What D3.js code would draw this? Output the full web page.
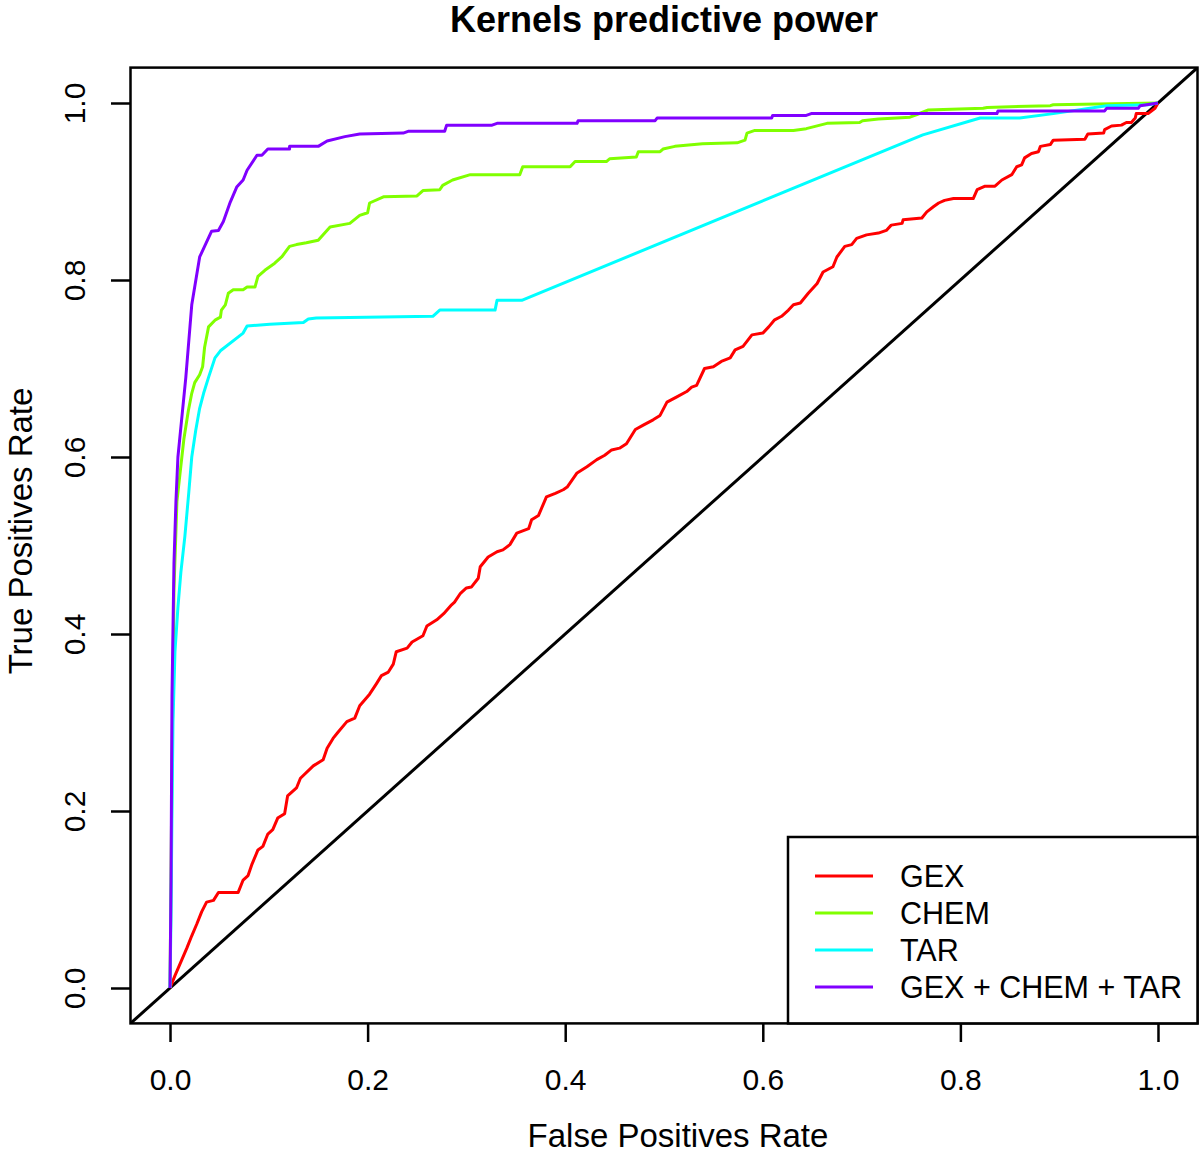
<!DOCTYPE html>
<html>
<head>
<meta charset="utf-8">
<script src="https://cdn.jsdelivr.net/npm/d3@7"></script>
<style>
  html, body { margin: 0; padding: 0; background: #fff; }
  svg { display: block; }
  text { font-family: "Liberation Sans", Arial, Helvetica, sans-serif; fill: #000; }
</style>
</head>
<body>
<svg id="chart" width="1200" height="1155"></svg>
<script>
// ---------------- data ----------------
const chartTitle = "Kernels predictive power";
const xLabel = "False Positives Rate";
const yLabel = "True Positives Rate";
const tickValues = [0, 0.2, 0.4, 0.6, 0.8, 1.0];
const tickLabels = ["0.0", "0.2", "0.4", "0.6", "0.8", "1.0"];
const seriesNames = ["GEX", "CHEM", "TAR", "GEX + CHEM + TAR"];
const seriesColors = ["#FF0000", "#80FF00", "#00FFFF", "#8000FF"];

// ROC points [FPR, TPR]
const gexRoc = [[0,0],[0.005,0.014],[0.012,0.032],[0.017,0.045],[0.022,0.059],[0.027,0.072],[0.032,0.086],[0.037,0.097],[0.044,0.099],[0.049,0.108],[0.069,0.108],[0.074,0.122],[0.079,0.127],[0.083,0.140],[0.089,0.156],[0.094,0.160],[0.099,0.174],[0.104,0.179],[0.109,0.192],[0.116,0.197],[0.119,0.217],[0.128,0.226],[0.132,0.237],[0.145,0.251],[0.155,0.258],[0.159,0.271],[0.165,0.282],[0.170,0.289],[0.179,0.301],[0.187,0.305],[0.192,0.319],[0.202,0.332],[0.209,0.344],[0.214,0.353],[0.221,0.357],[0.226,0.366],[0.229,0.380],[0.240,0.384],[0.245,0.391],[0.256,0.398],[0.260,0.409],[0.270,0.416],[0.277,0.423],[0.285,0.433],[0.288,0.436],[0.294,0.446],[0.300,0.452],[0.305,0.453],[0.312,0.463],[0.314,0.476],[0.322,0.487],[0.331,0.493],[0.337,0.495],[0.344,0.501],[0.351,0.514],[0.363,0.519],[0.366,0.529],[0.373,0.534],[0.381,0.555],[0.390,0.559],[0.398,0.563],[0.402,0.566],[0.412,0.582],[0.422,0.589],[0.432,0.597],[0.440,0.602],[0.447,0.608],[0.455,0.610],[0.462,0.615],[0.471,0.631],[0.479,0.636],[0.489,0.642],[0.496,0.647],[0.503,0.662],[0.513,0.668],[0.523,0.674],[0.528,0.679],[0.533,0.681],[0.541,0.700],[0.550,0.702],[0.558,0.708],[0.567,0.712],[0.572,0.721],[0.580,0.725],[0.589,0.738],[0.600,0.740],[0.606,0.747],[0.612,0.755],[0.619,0.759],[0.626,0.766],[0.631,0.772],[0.638,0.774],[0.646,0.785],[0.655,0.796],[0.661,0.809],[0.671,0.815],[0.675,0.826],[0.683,0.838],[0.690,0.840],[0.695,0.847],[0.705,0.851],[0.717,0.853],[0.725,0.856],[0.730,0.862],[0.741,0.864],[0.742,0.868],[0.761,0.870],[0.766,0.877],[0.773,0.883],[0.778,0.887],[0.784,0.890],[0.793,0.892],[0.813,0.892],[0.817,0.902],[0.825,0.906],[0.835,0.906],[0.842,0.913],[0.852,0.919],[0.857,0.928],[0.862,0.930],[0.865,0.938],[0.872,0.943],[0.879,0.945],[0.881,0.951],[0.891,0.953],[0.894,0.958],[0.926,0.959],[0.929,0.965],[0.945,0.966],[0.946,0.970],[0.953,0.974],[0.963,0.975],[0.968,0.978],[0.973,0.978],[0.977,0.983],[0.978,0.988],[0.990,0.988],[0.997,0.994],[1,1]];

const chemRoc = [[0,0],[0.002,0.25],[0.004,0.45],[0.007,0.55],[0.010,0.58],[0.014,0.62],[0.0185,0.652],[0.022,0.672],[0.025,0.684],[0.030,0.693],[0.033,0.702],[0.035,0.724],[0.039,0.747],[0.046,0.755],[0.051,0.758],[0.052,0.766],[0.056,0.772],[0.059,0.785],[0.064,0.789],[0.074,0.789],[0.078,0.792],[0.086,0.792],[0.089,0.804],[0.096,0.811],[0.106,0.819],[0.113,0.826],[0.121,0.838],[0.128,0.840],[0.138,0.842],[0.150,0.845],[0.162,0.860],[0.182,0.864],[0.192,0.873],[0.200,0.876],[0.202,0.887],[0.216,0.894],[0.250,0.895],[0.256,0.901],[0.273,0.902],[0.276,0.907],[0.286,0.913],[0.304,0.919],[0.354,0.919],[0.357,0.928],[0.405,0.928],[0.410,0.934],[0.442,0.934],[0.445,0.937],[0.472,0.939],[0.474,0.945],[0.496,0.945],[0.499,0.948],[0.511,0.951],[0.539,0.954],[0.574,0.955],[0.582,0.958],[0.584,0.966],[0.592,0.969],[0.631,0.969],[0.644,0.971],[0.665,0.977],[0.698,0.978],[0.701,0.980],[0.717,0.982],[0.749,0.984],[0.756,0.987],[0.767,0.992],[0.823,0.994],[0.827,0.995],[0.891,0.997],[0.894,0.998],[1,1]];

const tarRoc = [[0,0],[0.001,0.08],[0.002,0.2],[0.003,0.3],[0.005,0.38],[0.008,0.43],[0.011,0.47],[0.015,0.51],[0.019,0.56],[0.022,0.6],[0.026,0.63],[0.030,0.655],[0.034,0.672],[0.039,0.69],[0.0455,0.712],[0.051,0.72],[0.074,0.740],[0.078,0.748],[0.101,0.750],[0.135,0.752],[0.140,0.756],[0.148,0.757],[0.266,0.759],[0.273,0.766],[0.329,0.766],[0.331,0.777],[0.356,0.777],[0.749,0.958],[0.762,0.964],[0.820,0.983],[0.860,0.983],[0.894,0.988],[0.948,0.997],[0.990,0.998],[1,1]];

const comboRoc = [[0,0],[0.001,0.12],[0.002,0.33],[0.004,0.48],[0.006,0.55],[0.008,0.6],[0.012,0.645],[0.016,0.69],[0.022,0.772],[0.030,0.826],[0.042,0.855],[0.049,0.856],[0.054,0.866],[0.061,0.888],[0.0675,0.905],[0.074,0.913],[0.078,0.924],[0.088,0.941],[0.093,0.941],[0.099,0.948],[0.121,0.948],[0.121,0.951],[0.150,0.951],[0.159,0.957],[0.177,0.962],[0.192,0.965],[0.236,0.966],[0.241,0.968],[0.278,0.968],[0.280,0.975],[0.326,0.975],[0.331,0.977],[0.412,0.977],[0.413,0.980],[0.491,0.980],[0.493,0.983],[0.609,0.983],[0.610,0.986],[0.644,0.986],[0.649,0.988],[0.837,0.988],[0.838,0.991],[0.946,0.991],[0.948,0.994],[0.980,0.994],[0.982,0.997],[1,1]];

const allSeries = [gexRoc, chemRoc, tarRoc, comboRoc];

// ---------------- drawing ----------------
const svg = d3.select("#chart");
const pLeft = 130.5, pRight = 1197.5, pTop = 67.6, pBottom = 1023.4;

const x = d3.scaleLinear().domain([-0.04, 1.04]).range([pLeft, pRight]);
const y = d3.scaleLinear().domain([-0.04, 1.04]).range([pBottom, pTop]);

svg.append("defs").append("clipPath").attr("id", "plotclip")
  .append("rect").attr("x", pLeft).attr("y", pTop)
  .attr("width", pRight - pLeft).attr("height", pBottom - pTop);

const plot = svg.append("g").attr("clip-path", "url(#plotclip)");

// diagonal reference line (abline 0,1)
plot.append("line")
  .attr("x1", x(-0.04)).attr("y1", y(-0.04))
  .attr("x2", x(1.04)).attr("y2", y(1.04))
  .attr("stroke", "#000").attr("stroke-width", 3);

const line = d3.line().x(d => x(d[0])).y(d => y(d[1]));

allSeries.forEach((s, i) => {
  plot.append("path")
    .attr("d", line(s))
    .attr("fill", "none")
    .attr("stroke", seriesColors[i])
    .attr("stroke-width", 3)
    .attr("stroke-linejoin", "round");
});

// axes
const xAxis = d3.axisBottom(x).tickValues(tickValues)
  .tickFormat((d, i) => tickLabels[i]).tickSize(19).tickSizeOuter(0);
const gx = svg.append("g").attr("transform", `translate(0,${pBottom - 0.4})`).call(xAxis);
gx.select(".domain").remove();
gx.selectAll(".tick line").attr("stroke", "#000").attr("stroke-width", 2.5);
gx.selectAll(".tick text")
  .attr("y", 67).attr("dy", null)
  .style("font-size", "30px").attr("fill", "#000");

const yAxis = d3.axisLeft(y).tickValues(tickValues)
  .tickFormat((d, i) => tickLabels[i]).tickSize(19).tickSizeOuter(0);
const gy = svg.append("g").attr("transform", `translate(${pLeft - 0.5},0)`).call(yAxis);
gy.select(".domain").remove();
gy.selectAll(".tick line").attr("stroke", "#000").attr("stroke-width", 2.5);
gy.selectAll(".tick text")
  .attr("x", 0).attr("y", -45).attr("dy", null)
  .attr("transform", "rotate(-90)")
  .attr("text-anchor", "middle")
  .style("font-size", "30px").attr("fill", "#000");

// plot box
svg.append("rect")
  .attr("x", pLeft).attr("y", pTop)
  .attr("width", pRight - pLeft).attr("height", pBottom - pTop)
  .attr("fill", "none").attr("stroke", "#000").attr("stroke-width", 2.5);

// titles
const cx = (pLeft + pRight) / 2;
svg.append("text").attr("x", cx).attr("y", 32)
  .attr("text-anchor", "middle")
  .style("font-size", "36px").style("font-weight", "bold")
  .text(chartTitle);

svg.append("text").attr("x", 678).attr("y", 1147)
  .attr("text-anchor", "middle")
  .style("font-size", "33px")
  .text(xLabel);

svg.append("text")
  .attr("transform", `translate(32,531) rotate(-90)`)
  .attr("text-anchor", "middle")
  .style("font-size", "33px")
  .text(yLabel);

// legend
const lg = svg.append("g");
const lgX0 = 788, lgY0 = 837;
lg.append("rect")
  .attr("x", lgX0).attr("y", lgY0)
  .attr("width", pRight - lgX0).attr("height", pBottom - lgY0)
  .attr("fill", "#fff").attr("stroke", "#000").attr("stroke-width", 2.5);
seriesNames.forEach((name, i) => {
  const ry = 876 + i * 37;
  lg.append("line")
    .attr("x1", 815).attr("x2", 873)
    .attr("y1", ry).attr("y2", ry)
    .attr("stroke", seriesColors[i]).attr("stroke-width", 3);
  lg.append("text")
    .attr("x", 900).attr("y", ry + 11)
    .style("font-size", "30.5px")
    .text(name);
});
</script>
</body>
</html>
